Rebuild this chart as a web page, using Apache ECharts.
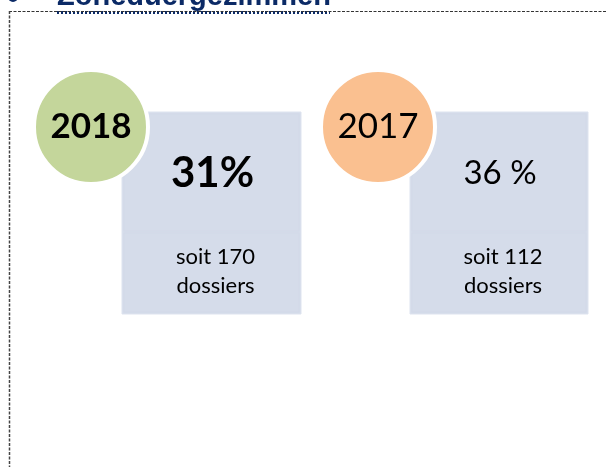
<!DOCTYPE html>
<html><head><meta charset="utf-8">
<script src="https://cdn.jsdelivr.net/npm/echarts@6/dist/echarts.min.js"></script>
<style>html,body{margin:0;padding:0;background:#fff}#c{width:606px;height:467px}</style>
</head><body><div id="c"></div>
<script>
var years = ['2018', '2017'];
var percents = ['31%', '36 %'];
var dossiers = [170, 112];
var yearBold = [true, false];
var circleColors = ['#c4d69b', '#fac090'];
var title = 'Zoneduergezimmen';

var boxes = [{x:122, w:179}, {x:410, w:178}];
var boxTop = 112, boxDiv = 232, boxBottom = 314;
var font = 'Lato, "Open Sans", sans-serif';

var g = [];
// title (clipped at top)
g.push({type:'text', left:57, top:-18, style:{text:title, font:'bold 29px Arial, "Liberation Sans", sans-serif', fill:'#0b2a66'}});
g.push({type:'circle', shape:{cx:13, cy:-3, r:5}, style:{fill:'#0b2a66'}});
g.push({type:'line', shape:{x1:57,y1:12.5,x2:330,y2:12.5}, style:{stroke:'#0b2a66', lineWidth:3, lineDash:[2,2]}});
// dashed frame
g.push({type:'line', shape:{x1:9,y1:11.5,x2:606,y2:11.5}, style:{stroke:'#333', lineWidth:1, lineDash:[3,1.5]}});
g.push({type:'line', shape:{x1:9.5,y1:11,x2:9.5,y2:467}, style:{stroke:'#444', lineWidth:1.5, lineDash:[3,1.5]}});

years.forEach(function(y, i){
  var b = boxes[i];
  g.push({type:'rect', shape:{x:b.x, y:boxTop, width:b.w, height:boxBottom-boxTop}, style:{fill:'#d5dcea', stroke:'#dde3ef', lineWidth:1}});
  g.push({type:'rect', shape:{x:b.x+2, y:boxTop+2, width:b.w-4, height:boxDiv-boxTop-3}, style:{fill:'#d5dcea', stroke:'#d2d9e8', lineWidth:1}});
  g.push({type:'rect', shape:{x:b.x+2, y:boxDiv+1, width:b.w-4, height:boxBottom-boxDiv-3}, style:{fill:'#d5dcea', stroke:'#d2d9e8', lineWidth:1}});
  var cx = b.x - 31 + (i===1? -1: 0);
  g.push({type:'circle', shape:{cx:cx, cy:127, r:57}, style:{fill:circleColors[i], stroke:'#ffffff', lineWidth:4}});
  g.push({type:'text', x:cx, y:127, style:{text:y, font:(yearBold[i]?'bold ':'')+'35px '+font, fill:'#000', align:'center', verticalAlign:'middle'}});
  g.push({type:'text', x:b.x+b.w/2+1, y:173, style:{text:percents[i], font:(yearBold[i]?'bold 42px ':'33px ')+font, fill:'#000', align:'center', verticalAlign:'middle'}});
  g.push({type:'text', x:b.x+b.w/2+4, y:271, style:{text:'soit '+dossiers[i]+'\ndossiers', font:'22px '+font, lineHeight:29, fill:'#000', align:'center', verticalAlign:'middle'}});
});

var chart = echarts.init(document.getElementById('c'), null, {renderer:'canvas'});
chart.setOption({animation:false, graphic:{elements:g}});
</script></body></html>
